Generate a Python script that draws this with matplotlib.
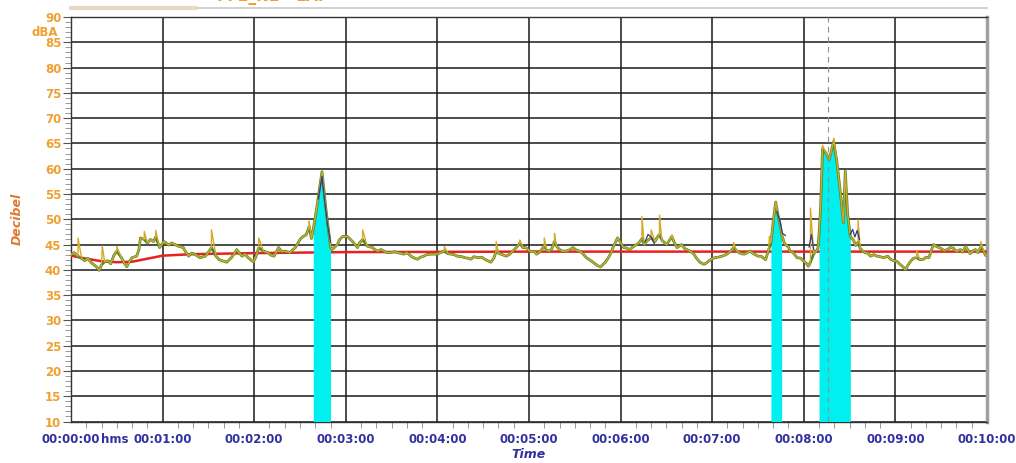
import numpy as np
import matplotlib
matplotlib.use('Agg')
import matplotlib.pyplot as plt
from matplotlib.ticker import MultipleLocator, FuncFormatter

# measured sound level (dBA), seconds from start
laf_t = [0, 2, 4.6, 7, 9, 11, 13, 15, 17, 18.5, 20, 22, 24, 26, 28, 30, 33, 35, 36.5, 38,
         40, 43, 44.5, 45.5, 48, 50, 52, 54, 55.5, 58, 61, 64, 66, 70, 73.5, 75, 77, 79, 81, 84.5,
         88, 90, 92, 95, 97, 99, 102, 105, 107, 108.5, 112, 114, 116, 118, 119.5, 121, 123, 126, 129, 131,
         133, 136, 138, 140, 143.5, 145, 147, 150, 152, 154, 156, 157.5, 158.7, 161, 164.4, 167, 170, 171, 174.5, 176,
         178, 181, 183, 184.4, 187.7, 189, 191, 194, 197.5, 199, 201, 203, 205, 207, 209.5, 212, 214, 218, 220, 222.7,
         225, 227, 229, 231, 233, 236, 240, 242, 244.5, 247, 249, 251, 253, 256, 258, 260, 262, 264, 266.5, 269,
         271, 273, 275, 277, 278.5, 280, 281.7, 285, 287, 289.4, 292, 294, 296, 298, 301, 303.6, 305, 307, 310, 311.5,
         313.4, 315, 316.7, 318, 320, 322, 324.4, 327, 328.8, 331, 333, 335, 337.6, 340, 342, 345, 347, 348.6, 350, 352,
         354, 355, 358, 360, 362, 364, 366, 368, 370.5, 372, 374, 375.5, 377, 378.5, 380, 382.6, 384, 385.5, 387, 390,
         392, 393.6, 395, 397, 400, 402, 403.5, 406, 408, 410, 412, 414.5, 416, 418, 420, 422, 424, 426.6, 429, 431,
         432.5, 434, 436, 437.6, 439, 441, 443, 445, 447, 450, 452, 455, 457, 458.5, 460, 461.6, 463, 464.5, 465.5, 467,
         468, 470, 471, 473, 475.6, 478, 480, 482, 483, 484.4, 486.5, 488, 489.3, 490, 491, 492.3, 494.5, 496.7, 499.6, 501.8,
         504, 506, 507.2, 508.7, 510.5, 512.7, 514, 515.6, 517, 520, 522, 523.7, 526, 528, 530, 532.4, 535, 536.8, 539, 541,
         543, 545, 546.6, 548, 550, 552, 554, 556, 558.6, 560, 562, 563.5, 565, 567, 569.5, 572, 574, 576, 578, 580,
         582.6, 584, 586, 588, 589, 591, 592.5, 594, 596, 598, 599, 600]
laf_db = [43.0, 43.4, 42.7, 42.2, 41.8, 42.3, 41.5, 41.0, 40.5, 39.9, 41.0, 41.6, 41.8, 41.2, 42.8, 43.7, 42.4, 41.3, 40.6, 41.5,
          42.4, 42.7, 44.0, 46.3, 46.0, 45.3, 46.0, 45.6, 46.5, 44.4, 45.6, 44.9, 45.3, 44.7, 44.4, 43.6, 42.7, 43.3, 43.1, 42.4,
          42.7, 43.5, 44.4, 42.7, 42.0, 41.8, 41.5, 42.4, 43.2, 44.0, 42.7, 43.1, 42.4, 41.9, 41.6, 42.5, 44.4, 43.7, 43.4, 42.9,
          42.7, 44.4, 43.6, 43.7, 43.4, 43.9, 44.4, 46.0, 46.6, 46.9, 48.5, 46.2, 48.0, 52.3, 59.4, 52.0, 44.5, 44.0, 45.0, 46.0,
          46.6, 46.6, 46.0, 45.6, 44.4, 45.3, 46.0, 44.7, 44.4, 44.0, 43.7, 44.0, 43.7, 43.4, 43.4, 43.6, 43.4, 43.1, 43.4, 42.7,
          42.3, 42.1, 42.5, 42.7, 43.0, 43.1, 43.1, 43.4, 43.7, 43.2, 43.1, 43.0, 42.7, 42.6, 42.4, 42.3, 42.1, 42.6, 42.4, 42.5,
          42.1, 41.8, 41.5, 42.3, 43.7, 43.3, 43.1, 42.7, 43.0, 43.7, 44.5, 45.3, 44.4, 44.4, 43.6, 43.6, 43.1, 43.5, 44.7, 43.9,
          43.7, 44.2, 45.6, 44.7, 44.0, 43.7, 43.7, 44.0, 44.4, 43.9, 43.7, 43.3, 42.4, 41.9, 41.5, 40.8, 40.6, 41.1, 41.5, 42.4,
          43.5, 44.4, 46.3, 45.4, 44.4, 44.3, 44.0, 44.5, 45.0, 45.3, 46.2, 45.0, 45.6, 46.0, 46.3, 45.6, 46.4, 47.0, 45.9, 45.0,
          45.8, 46.6, 45.5, 44.4, 45.0, 44.2, 44.0, 43.6, 43.1, 42.2, 41.5, 41.1, 41.3, 41.8, 42.2, 42.4, 42.5, 42.7, 43.0, 43.4,
          43.8, 44.4, 43.8, 43.4, 43.2, 43.1, 43.4, 43.7, 43.2, 42.7, 42.7, 42.0, 44.0, 45.3, 49.5, 53.4, 51.0, 49.0, 47.0, 45.5,
          45.0, 44.5, 43.7, 43.4, 42.4, 42.3, 41.7, 41.2, 40.7, 41.5, 43.2, 43.6, 44.3, 47.0, 52.0, 64.0, 63.1, 61.8, 65.4, 61.1,
          55.2, 49.3, 59.5, 51.2, 46.6, 45.8, 44.8, 45.5, 44.2, 43.4, 43.3, 42.7, 43.0, 42.7, 42.6, 42.4, 42.7, 42.1, 41.8, 41.7,
          41.1, 40.6, 40.0, 40.8, 41.7, 42.3, 42.4, 42.0, 42.1, 42.5, 42.4, 43.8, 45.0, 44.6, 44.3, 43.8, 44.0, 44.4, 44.3, 43.6,
          44.0, 43.5, 44.6, 43.7, 43.2, 43.8, 44.0, 43.4, 44.5, 43.6, 42.9, 42.8]

# short peaks seen on the fast (yellow) trace
spike_t = [4.6, 20.5, 30, 48, 55.5, 92, 123, 156, 191, 244.5, 278.5, 294, 310, 316.7,
           374, 380, 385.5, 393.6, 434, 457.5, 484.4, 492.3, 499.6, 515.6, 554, 596]
spike_db = [46.3, 44.7, 44.6, 47.6, 47.8, 47.9, 46.3, 49.6, 47.9, 44.6, 45.6, 45.9, 46.3, 47.2,
            50.5, 47.9, 50.8, 46.9, 45.4, 46.6, 52.2, 64.6, 66.0, 49.9, 43.8, 45.6]

# blue trace, only visible around the events
blue_t = [162, 164.4, 166, 168, 170, np.nan, 376, 378, 380, 382, np.nan,
          462.5, 464.5, 466, 468, np.nan, 483.5, 485, 486.5, np.nan, 510.5, 512, 513.5, 515, 516.5]
blue_db = [54.0, 58.5, 54.0, 49.0, 45.5, np.nan, 45.5, 47.0, 46.5, 45.2, np.nan,
           51.5, 49.5, 47.2, 46.8, np.nan, 44.5, 47.0, 44.0, np.nan, 47.0, 48.0, 46.5, 47.8, 46.0]

# running Leq
leq_t = [0, 10, 20, 30, 40, 50, 60, 80, 120, 180, 300, 600]
leq_db = [42.8, 42.2, 41.7, 41.5, 41.6, 42.2, 42.8, 43.1, 43.3, 43.5, 43.6, 43.6]

# marked events (start, end) in seconds
events = [(158.7, 170), (458.5, 465.5), (490, 510.5)]
cursor_t = 496.2

orange = '#f0a030'
blue = '#3030a0'

laf_t = np.array(laf_t)
laf_db = np.array(laf_db)
yel_t = np.concatenate([laf_t, spike_t])
yel_db = np.concatenate([laf_db, spike_db])
order = np.argsort(yel_t, kind='stable')
yel_t, yel_db = yel_t[order], yel_db[order]

fig = plt.figure(figsize=(10.16, 4.63), dpi=100)
ax = fig.add_axes([0.0699, 0.0896, 0.9015, 0.8737])

ax.plot(leq_t, leq_db, color='#e82020', lw=1.8, zorder=3)
for a, b in events:
    mask = (laf_t >= a) & (laf_t <= b)
    ax.fill_between(laf_t, 10, laf_db, where=mask, color='#00f0f0', lw=0, zorder=4)
ax.plot(laf_t, laf_db, color='#4a8a30', lw=2.0, zorder=5)
ax.plot(yel_t, yel_db, color='#d8a828', lw=1.0, zorder=6)
ax.plot(blue_t, blue_db, color='#303c88', lw=0.9, zorder=7)
ax.axvline(cursor_t, color='#909090', lw=0.8, ls=(0, (5, 4)), zorder=8)

ax.set_xlim(0, 600)
ax.set_ylim(10, 90)
ax.xaxis.set_major_locator(MultipleLocator(60))
ax.xaxis.set_minor_locator(MultipleLocator(10))
ax.yaxis.set_major_locator(MultipleLocator(5))
ax.yaxis.set_minor_locator(MultipleLocator(1))
ax.xaxis.set_major_formatter(FuncFormatter(lambda v, p: '00:%02d:00' % int(round(v / 60))))
ax.grid(True, which='major', color='#1a1a1a', lw=1.1)
ax.set_axisbelow(True)

ax.tick_params(axis='y', which='major', length=6, width=0.8, color='#555555',
               labelcolor=orange, labelsize=8.5, pad=1)
ax.tick_params(axis='y', which='minor', length=4, width=0.6, color='#888888')
ax.tick_params(axis='x', which='major', length=0, labelcolor=blue, labelsize=8.5, pad=8)
ax.tick_params(axis='x', which='minor', length=4, width=0.6, color='#888888')
for lab in ax.get_xticklabels() + ax.get_yticklabels():
    lab.set_fontweight('bold')

for s in ['left', 'bottom', 'top']:
    ax.spines[s].set_color('#333333')
    ax.spines[s].set_linewidth(1.0)
ax.spines['right'].set_color('#a0a0a0')
ax.spines['right'].set_linewidth(2.5)

ax.set_ylabel('Decibel', color='#e07830', fontsize=9, fontstyle='italic', fontweight='bold', labelpad=15)
ax.set_xlabel('Time', color=blue, fontsize=9, fontstyle='italic', fontweight='bold', labelpad=2)
fig.text(0.044, 0.930, 'dBA', color=orange, fontsize=8.5, fontweight='bold', ha='center', va='center')
fig.text(0.113, 0.050, 'hms', color=blue, fontsize=8.5, fontweight='bold', ha='center', va='center')

# remains of the legend strip cut off at the top
fig.add_artist(plt.Line2D([0.0699, 0.9714], [0.982, 0.982], color='#c8c8c8', lw=1.2))
fig.add_artist(plt.Line2D([0.0699, 0.192], [0.982, 0.982], color='#e8d8c4', lw=3))
fig.text(0.268, 0.99, 'FF2_N2 - LAF', color=orange, fontsize=11, fontweight='bold', ha='center', va='bottom')

fig.savefig('out.png', dpi=100)
